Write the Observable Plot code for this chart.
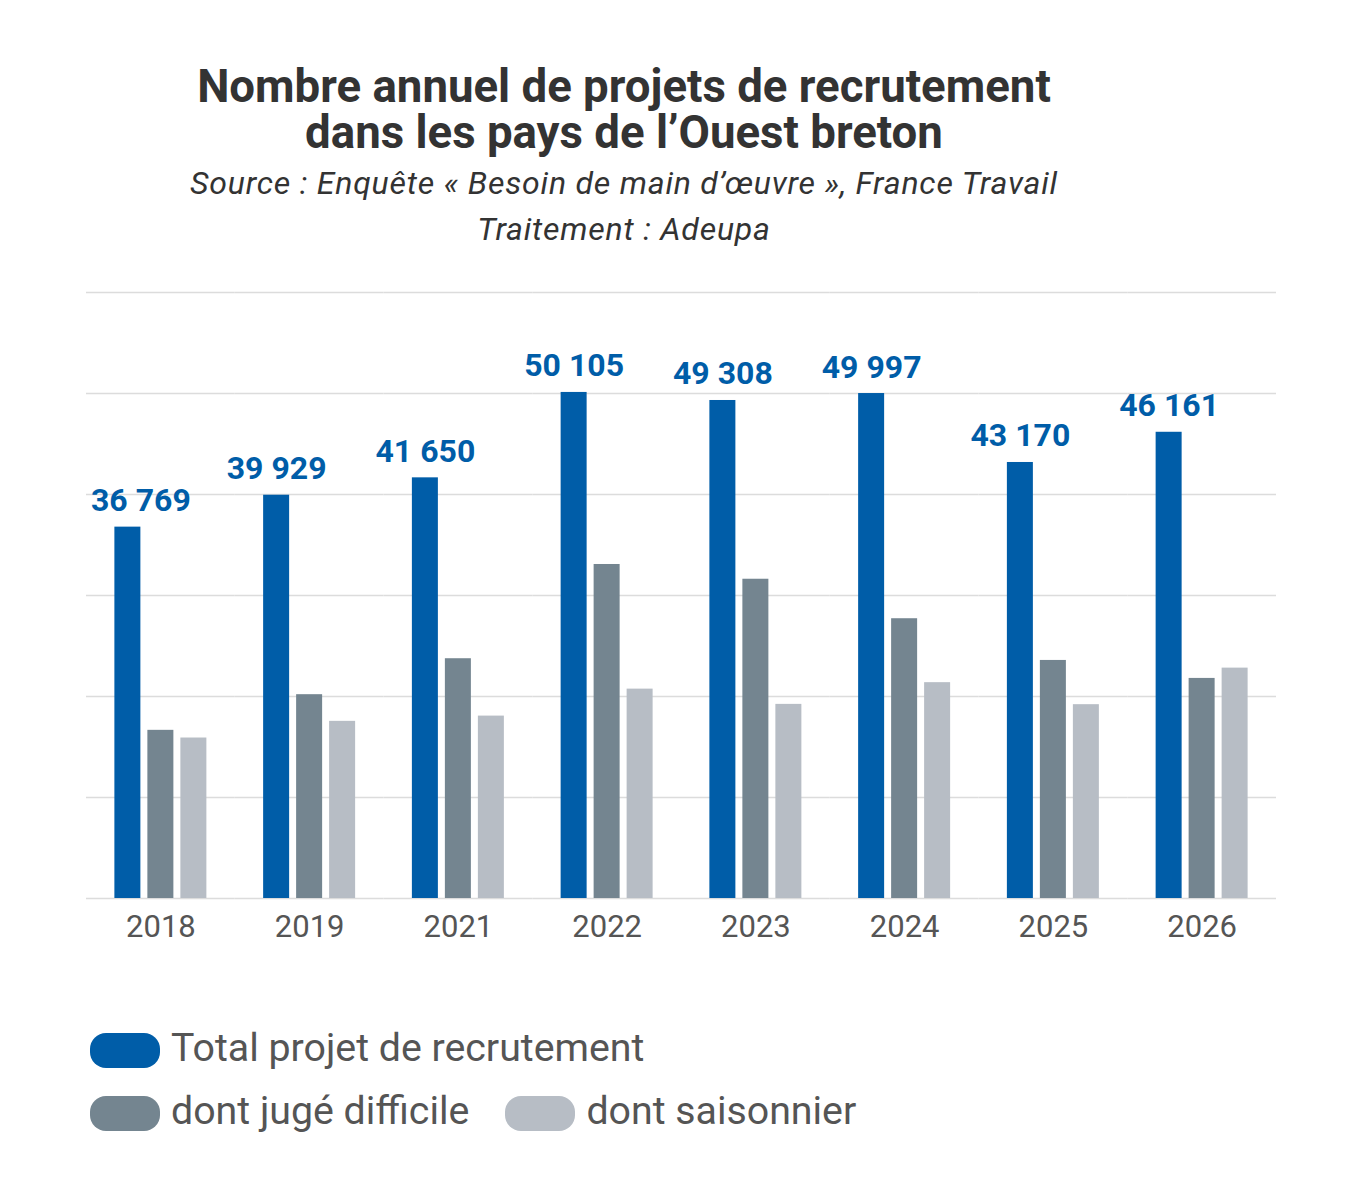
<!DOCTYPE html>
<html>
<head>
<meta charset="utf-8">
<script src="https://cdn.jsdelivr.net/npm/d3@7"></script>
<script src="https://cdn.jsdelivr.net/npm/@observablehq/plot@0.6"></script>
<style>
  body { margin: 0; background: #fff; font-family: Roboto, "Noto Sans", sans-serif; }
  #page { position: relative; width: 1357px; height: 1181px; overflow: hidden; }
  .tl { position: absolute; left: 0; width: 1248px; height: 46px; text-align: center;
        font-weight: 700; font-size: 45.6px; line-height: 46px; color: #333; white-space: nowrap; }
  .sl { position: absolute; left: 0; width: 1248px; height: 46px; text-align: center;
        font-style: italic; font-size: 32px; letter-spacing: 0.8px; line-height: 46px; color: #333; white-space: nowrap; }
  #chart { position: absolute; left: 0; top: 250px; }
  #legend { position: absolute; left: 90px; top: 1033px; font-size: 39.3px; color: #555; }
  .row { display: flex; align-items: center; height: 35px; margin-bottom: 28px; white-space: nowrap; }
  .item { display: flex; align-items: center; margin-right: 36px; }
  .item span { position: relative; top: -3px; }
  .sw { width: 70px; height: 35px; border-radius: 16px; margin-right: 11px; flex: none; }
</style>
</head>
<body>
<div id="page">
  <div class="tl" style="top:64px">Nombre annuel de projets de recrutement</div>
  <div class="tl" style="top:110px">dans les pays de l’Ouest breton</div>
  <div class="sl" style="top:160px">Source : Enquête « Besoin de main d’œuvre », France Travail</div>
  <div class="sl" style="top:206px">Traitement : Adeupa</div>
  <div id="chart"></div>
  <div id="legend"></div>
</div>
<script>
const years = ["2018", "2019", "2021", "2022", "2023", "2024", "2025", "2026"];
const series = ["Total projet de recrutement", "dont jugé difficile", "dont saisonnier"];
const colors = ["#005da8", "#748590", "#b7bdc5"];
const total = [36769, 39929, 41650, 50105, 49308, 49997, 43170, 46161];
const difficile = [16650, 20180, 23740, 33070, 31610, 27700, 23570, 21790];
const saisonnier = [15890, 17540, 18060, 20730, 19220, 21370, 19190, 22810];
const yTicks = [0, 10000, 20000, 30000, 40000, 50000, 60000];

const data = years.flatMap((y, i) => [
  {year: y, series: series[0], value: total[i]},
  {year: y, series: series[1], value: difficile[i]},
  {year: y, series: series[2], value: saisonnier[i]}
]);
const fmt = d3.formatLocale({thousands: " ", grouping: [3], decimal: ","}).format(",");
const totals = data.filter(d => d.series === series[0]);

const chart = Plot.plot({
  width: 1357,
  height: 710,
  marginTop: 42,
  marginBottom: 62,
  marginLeft: 86,
  marginRight: 81,
  style: {fontFamily: "Roboto, sans-serif", background: "transparent"},
  fx: {domain: years, padding: 0, round: false, label: null},
  x: {domain: series, axis: null, paddingInner: 0.212, paddingOuter: 0.86, round: false},
  y: {domain: [0, 60000], axis: null},
  color: {domain: series, range: colors},
  marks: [
    Plot.gridY(yTicks, {stroke: "#dcdcdc", strokeOpacity: 1, strokeWidth: 1.5}),
    Plot.barY(data, {fx: "year", x: "series", y: "value", fill: "series"}),
    Plot.text(totals.filter(d => d.year !== "2018"), {
      fx: "year", x: "series", y: "value", text: d => fmt(d.value),
      lineAnchor: "bottom", dy: -16, fill: colors[0], fontWeight: "bold", fontSize: 32
    }),
    Plot.text(totals.filter(d => d.year === "2018"), {
      fx: "year", x: "series", y: "value", text: d => fmt(d.value),
      lineAnchor: "bottom", dy: -16, dx: 13, fill: colors[0], fontWeight: "bold", fontSize: 32
    }),
    Plot.axisFx({anchor: "bottom", tickSize: 0, tickPadding: 16, fontSize: 31, fill: "#555", label: null})
  ]
});
document.getElementById("chart").append(chart);

const legend = document.getElementById("legend");
const rows = [[0], [1, 2]];
rows.forEach(r => {
  const row = document.createElement("div");
  row.className = "row";
  r.forEach(i => {
    const it = document.createElement("div");
    it.className = "item";
    const sw = document.createElement("div");
    sw.className = "sw";
    sw.style.background = colors[i];
    const t = document.createElement("span");
    t.textContent = series[i];
    it.append(sw, t);
    row.append(it);
  });
  legend.append(row);
});
</script>
</body>
</html>
